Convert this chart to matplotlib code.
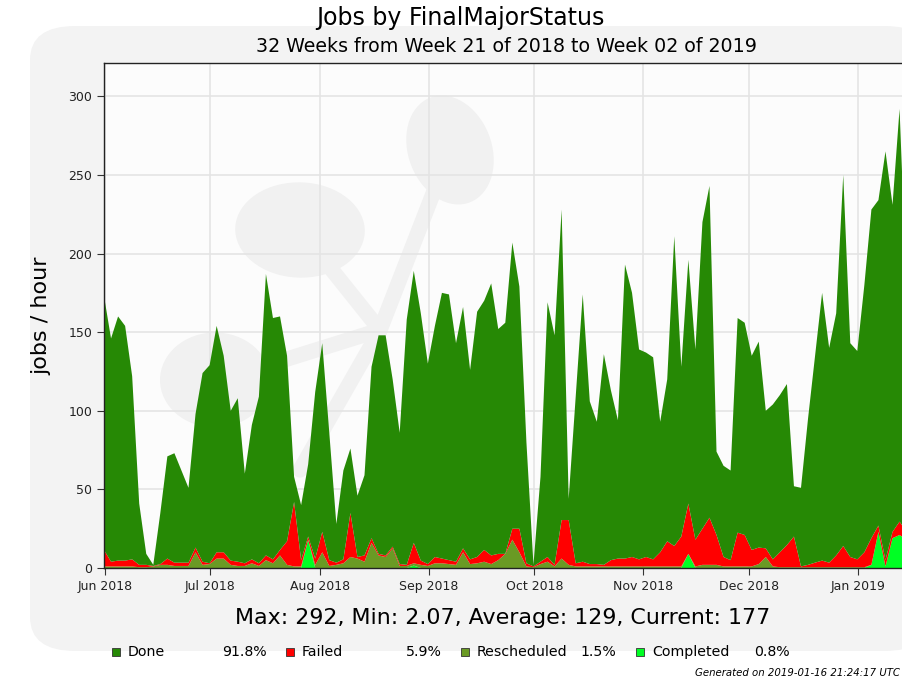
import numpy as np
import pandas as pd
import matplotlib
matplotlib.use("Agg")
import matplotlib.pyplot as plt
import matplotlib.dates as mdates
from matplotlib.patches import FancyBboxPatch, Ellipse, Rectangle

# jobs / hour, one point every 2 days
total = [173, 146, 160, 154, 122, 41, 9, 2, 35, 71,
         73, 62, 51, 98, 124, 129, 154, 135, 100, 108,
         60, 91, 109, 187, 159, 160, 135, 58, 40, 66,
         112, 143, 86, 28, 62, 76, 46, 59, 128, 148,
         148, 120, 86, 158, 189, 162, 130, 154, 175, 174,
         143, 166, 126, 163, 170, 181, 152, 156, 207, 179,
         80, 2, 58, 169, 148, 228, 44, 109, 174, 106,
         93, 136, 113, 94, 193, 175, 139, 137, 134, 93,
         120, 211, 128, 196, 139, 220, 243, 74, 65, 62,
         159, 156, 135, 144, 100, 104, 110, 117, 52, 51,
         95, 135, 175, 140, 162, 250, 143, 138, 180, 228,
         234, 265, 231, 292, 177]

# top of the red band (failed + rescheduled + completed)
red_top = [11.5, 4, 4.7, 4.7, 5.5, 2, 2, 1.3, 2.5, 6,
           3.4, 3.4, 3.4, 13, 4, 3, 10, 10, 4.7, 4,
           3, 5.5, 3, 8, 5.5, 11.5, 17, 42, 5, 20,
           6, 23, 5, 3.4, 5.5, 35, 7, 8, 19, 9,
           8, 13.6, 2.5, 2, 16, 4.7, 2.5, 7, 6, 5,
           4, 12.5, 5.5, 7, 11.5, 8, 9, 9, 25, 25,
           3, 1, 4, 7, 2, 30.5, 30.5, 3, 4, 2.5,
           2.5, 2, 5, 6, 6, 7, 5.5, 7, 5.5, 10,
           17, 14, 20, 41, 18, 25, 32, 21, 7, 5,
           22.5, 21, 11.5, 13, 12.5, 5.5, 10, 14.6, 20, 1,
           2, 3.4, 4.7, 3.4, 8, 14, 7, 5.5, 10, 19,
           27, 5, 23, 29.5, 23]

# top of the olive band (rescheduled + completed)
olive_top = [1, 1, 1, 1, 1, 0.5, 0.5, 1, 2, 2,
             1.3, 1.3, 1.3, 10, 2, 2.5, 6, 6, 2, 1.3,
             1.3, 3, 1.3, 5, 3, 8, 2, 1, 1, 18,
             2, 10, 1.3, 2, 3, 7, 6, 4, 16, 8,
             7, 12.5, 1.3, 1.3, 3, 2, 1.3, 3, 3, 2.5,
             2, 10, 2.5, 3, 4, 2.5, 5, 9, 18, 10,
             1, 0.5, 2.5, 4, 1, 6, 2, 1, 1, 1,
             1, 1, 1, 1, 1, 1, 1, 1, 1, 1,
             1, 1, 1, 9, 1, 2, 2, 2, 1, 1,
             1, 1, 1, 2.5, 7, 1, 0.5, 0.5, 0.5, 0.5,
             0.5, 0.5, 0.5, 0.5, 0.5, 0.5, 0.5, 0.5, 0.5, 2,
             23, 1, 19, 21, 18]

completed = [0] * 115
for k, v in {29: 18, 44: 1.5, 83: 9, 109: 2, 110: 23, 111: 1,
             112: 19, 113: 21, 114: 18}.items():
    completed[k] = v

names = ["Done", "Failed", "Rescheduled", "Completed"]
shares = ["91.8%", "5.9%", "1.5%", "0.8%"]
colors = ["#268905", "#ff0000", "#6a9a24", "#00ff24"]

total = np.array(total, float)
red_top = np.array(red_top, float)
olive_top = np.array(olive_top, float)
completed = np.array(completed, float)
rescheduled = np.clip(olive_top - completed, 0, None)
failed = np.clip(red_top - olive_top, 0, None)
done = np.clip(total - red_top, 0, None)

dates = pd.date_range("2018-05-31 18:00", periods=len(total), freq="2D")

W, H = 903, 679
fig = plt.figure(figsize=(W / 100, H / 100), dpi=100)
fig.patch.set_facecolor("white")

# grey rounded background (logo frame)
bg = FancyBboxPatch((30 / W, 28 / H), 900 / W, 625 / H,
                    boxstyle="round,pad=0,rounding_size=0.05",
                    transform=fig.transFigure, facecolor="#f3f3f3",
                    edgecolor="none", zorder=-10)
fig.patches.append(bg)

ax = fig.add_axes([104 / W, (H - 568) / H, 802.6 / W, 505 / H])
ax.set_facecolor("#fcfcfc")

# faint watermark blobs
wm = "#f1f1f1"
for (cx, cy, w, h, ang) in [(300, 230, 130, 95, -20), (450, 150, 85, 110, 10),
                            (215, 380, 110, 95, 0)]:
    e = Ellipse((cx / W, 1 - cy / H), w / W, h / H, angle=ang,
                transform=fig.transFigure, facecolor=wm,
                edgecolor="none", zorder=0.2)
    ax.add_artist(e)
for (x1, y1, x2, y2) in [(300, 230, 380, 330), (450, 150, 380, 330),
                         (380, 330, 220, 380), (380, 330, 300, 470)]:
    ax.plot([x1 / W, x2 / W], [1 - y1 / H, 1 - y2 / H], color=wm,
            lw=11, solid_capstyle="round", transform=fig.transFigure, zorder=0.2)

ax.stackplot(dates, completed, rescheduled, failed, done,
             colors=colors[::-1], linewidth=0, zorder=2)

ax.set_xlim(dates[0], dates[-1])
ax.set_ylim(0, 292 * 1.1)
ax.set_yticks([0, 50, 100, 150, 200, 250, 300])
ax.xaxis.set_major_locator(mdates.MonthLocator())
ax.xaxis.set_major_formatter(mdates.DateFormatter("%b %Y"))
ax.grid(True, color="#e4e4e4", lw=1.2, zorder=1)
ax.set_axisbelow(True)
ax.tick_params(labelsize=9, length=5, color="#333333", labelcolor="#222222")
for s in ax.spines.values():
    s.set_color("#222222")
    s.set_linewidth(1)
ax.set_ylabel("jobs / hour", fontsize=16, labelpad=12)

fig.text(460 / W, 1 - 18 / H, "Jobs by FinalMajorStatus", fontsize=17,
         ha="center", va="center")
fig.text(507 / W, 1 - 46 / H, "32 Weeks from Week 21 of 2018 to Week 02 of 2019",
         fontsize=13.7, ha="center", va="center")
fig.text(503 / W, 1 - 618 / H, "Max: 292, Min: 2.07, Average: 129, Current: 177",
         fontsize=15.9, ha="center", va="center")

# legend row
sq_x = [116, 290, 465, 640]
pct_x = [267, 442, 616, 790]
for k in range(4):
    r = Rectangle(((sq_x[k] - 4) / W, 1 - 656 / H), 8 / W, 8 / H,
                  transform=fig.transFigure, facecolor=colors[k],
                  edgecolor="#333333", lw=0.6)
    fig.patches.append(r)
    fig.text((sq_x[k] + 12) / W, 1 - 652 / H, names[k], fontsize=10.2,
             ha="left", va="center")
    fig.text(pct_x[k] / W, 1 - 652 / H, shares[k], fontsize=10.2,
             ha="right", va="center")

fig.text(900 / W, 1 - 673 / H, "Generated on 2019-01-16 21:24:17 UTC",
         fontsize=7.3, style="italic", ha="right", va="center")

fig.savefig("out.png", dpi=100)
